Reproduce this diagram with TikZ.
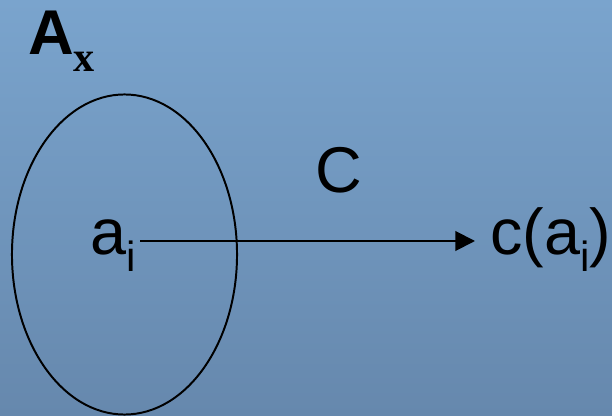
\documentclass[tikz,border=0pt]{standalone}
\usepackage{fontspec}
\setmainfont{Liberation Sans}
\newfontfamily\serifbold{Liberation Serif}
\usetikzlibrary{shapes.geometric, arrows.meta}
\definecolor{bgtop}{RGB}{122, 164, 205}
\definecolor{bgbottom}{RGB}{102, 136, 173}
\definecolor{linecolor}{RGB}{0, 0, 0}
\newcommand{\lowsub}[1]{\raisebox{-12pt}{\fontsize{30}{30}\selectfont #1}}
\tikzstyle{bigtext} = [inner sep=0pt, text=linecolor, font=\fontsize{46}{50}\selectfont]
\tikzstyle{titletext} = [inner sep=0pt, text=linecolor, font=\fontsize{45}{50}\selectfont\bfseries]
\tikzstyle{setshape} = [draw=linecolor, ellipse, minimum width=5.625cm, minimum height=8cm, line width=1.4pt]
\tikzstyle{arrow} = [line width=1.4pt, -{Triangle[length=14pt,width=14pt]}, color=linecolor]

\begin{document}
\begin{tikzpicture}[x=0.025cm, y=0.025cm]

\useasboundingbox (0,0) rectangle (612,415);
\shade [top color=bgtop, bottom color=bgbottom] (0,0) rectangle (612,415);

% Nodes
\node (setA) [setshape] at (124.5,160.5) {};

\node (setname) [titletext, anchor=base west] at (28,360) {A\lowsub{\serifbold\bfseries x}};

\node (ai) [bigtext, anchor=base west] at (90.5,160) {a\lowsub{i}};

\node (cai) [bigtext, anchor=base west] at (490,160) {c(a\lowsub{i})};

\node (mapC) [bigtext, anchor=base] at (338.5,222) {C};

% Arrows
\draw [arrow] ([shift={(4,14)}]ai.base east) -- ([shift={(-15,14)}]cai.base west);

\end{tikzpicture}
\end{document}
